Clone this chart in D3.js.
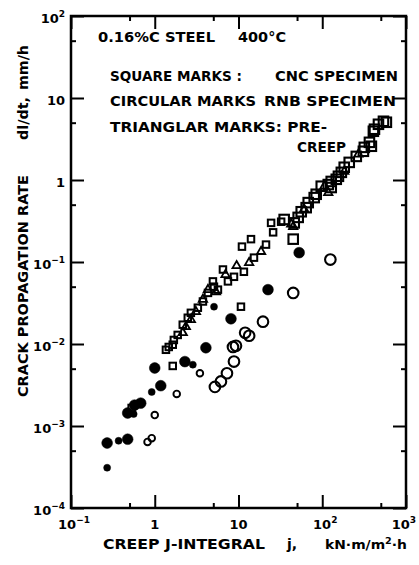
<!DOCTYPE html>
<html><head><meta charset="utf-8">
<script src="https://cdn.jsdelivr.net/npm/d3@7/dist/d3.min.js"></script>
<style>
html,body{margin:0;padding:0;background:#fff;}
text{font-family:"DejaVu Sans",sans-serif;fill:#000;}
</style></head>
<body><svg id="c" width="419" height="565"></svg>
<script>
// ---- data (j in kN·m/m²·h, dl/dt in mm/h) ----
const xMajor = [0.1, 1, 10, 100, 1000];
const xMajorLabels = [["10","-1"],["1",""],["10",""],["10","2"],["10","3"]];
const xMinor = [0.5, 5, 50, 500];
const yMajor = [1e-4, 1e-3, 1e-2, 1e-1, 1, 10, 100];
const yMajorLabels = [["10","-4"],["10","-3"],["10","-2"],["10","-1"],["1",""],["10",""],["10","2"]];
const yMinor = [5e-4, 5e-3, 5e-2, 0.5, 5, 50];

// square marks: CNC specimen
const cncLarge = [[35.1,0.33],[45,0.19],[46.3,0.30],[51.6,0.35],[56.1,0.41],[64.3,0.46],[68,0.53],[80.2,0.61],[84.7,0.67],[97.3,0.84],[118,0.88],[128,0.81],[128,0.96],[147,1.02],[156,1.11],[169,1.24],[183,1.43],[210,1.64],[255,1.94],[310,2.24],[318,2.5],[366,2.88],[386,2.58],[408,3.93],[420,4.16],[469,4.78],[538,5.2],[583,5.06]];
const cncSmall = [[1.36,0.0085],[1.47,0.0092],[1.64,0.0098],[1.69,0.0112],[1.88,0.0129],[2.16,0.0172],[2.48,0.0209],[2.7,0.024],[3.27,0.0277],[3.76,0.033],[4.32,0.042],[5.09,0.05],[4.95,0.058],[5.68,0.046],[6.52,0.081],[7.48,0.058],[8.83,0.066],[11.6,0.076],[11.0,0.154],[14.1,0.19],[15.3,0.113],[21.3,0.163],[25.9,0.23],[24.5,0.3],[32.3,0.31],[10.7,0.0285],[1.64,0.0054],[0.53,0.00166]];
// triangular marks: pre-creep
const preCreep = [[2.16,0.0137],[2.35,0.0162],[2.7,0.0198],[3.1,0.0248],[3.76,0.035],[4.32,0.046],[5.38,0.043],[7.0,0.07],[9.5,0.09],[13.4,0.098],[18.6,0.134],[42.6,0.29],[45,0.27],[60.8,0.44],[106,0.84],[118,0.7],[183,1.27],[270,2.06]];
// circular marks: RNB specimen
const rnbFilledLarge = [[0.27,0.00062],[0.475,0.00069],[0.575,0.0018],[0.68,0.0019],[0.475,0.00144],[1.18,0.0031],[1.0,0.0051],[2.29,0.0061],[4.08,0.009],[8.13,0.0203],[22.5,0.046],[53,0.13]];
const rnbFilledSmall = [[0.27,0.00031],[0.37,0.00066],[0.56,0.0014],[0.92,0.0026],[2.85,0.0056],[5.1,0.0285]];
const rnbOpenLarge = [[5.23,0.003],[6.17,0.0035],[7.28,0.0044],[8.83,0.0061],[8.59,0.0092],[9.33,0.0095],[12.0,0.0137],[13.4,0.0126],[19.6,0.0187],[45,0.042],[125,0.107]];
const rnbOpenSmall = [[0.82,0.00064],[0.92,0.00071],[1.0,0.00136],[1.83,0.00246],[3.46,0.0044]];

// ---- drawing ----
const svg = d3.select("#c");
svg.append("rect").attr("width",419).attr("height",565).attr("fill","#fff");
const L=71, R=406, T=16, B=508;
const x = d3.scaleLog().domain([0.1,1000]).range([L,R]);
const y = d3.scaleLog().domain([1e-4,100]).range([B,T]);

function ticks(axisFn, scale, vals, size, transform){
  const g = svg.append("g").attr("transform",transform)
    .call(axisFn(scale).tickValues(vals).tickSize(size).tickFormat(""));
  g.select(".domain").remove();
  g.selectAll(".tick line").attr("stroke","#000").attr("stroke-width",2);
}
const MJ=-13, MN=-5;
ticks(d3.axisBottom, x, xMajor, MJ, `translate(0,${B})`);
ticks(d3.axisBottom, x, xMinor, MN, `translate(0,${B})`);
ticks(d3.axisTop, x, xMajor, MJ, `translate(0,${T})`);
ticks(d3.axisTop, x, xMinor, MN, `translate(0,${T})`);
ticks(d3.axisLeft, y, yMajor, MJ, `translate(${L},0)`);
ticks(d3.axisLeft, y, yMinor, MN, `translate(${L},0)`);
ticks(d3.axisRight, y, yMajor, MJ, `translate(${R},0)`);
ticks(d3.axisRight, y, yMinor, MN, `translate(${R},0)`);

svg.append("rect").attr("x",L).attr("y",T).attr("width",R-L).attr("height",B-T)
  .attr("fill","none").attr("stroke","#000").attr("stroke-width",2.5);

function supLabel(px, py, lab, anchor){
  const t = svg.append("text").attr("x",px).attr("y",py).attr("text-anchor",anchor)
    .attr("font-size",13).attr("font-weight","bold");
  t.append("tspan").text(lab[0]);
  if(lab[1]) t.append("tspan").attr("dy",-6).attr("font-size",9).text(lab[1].replace("-","\u2212"));
}
xMajor.forEach((v,i)=>{
  const last = i===xMajor.length-1;
  supLabel(last ? 416 : x(v)+(xMajorLabels[i][1]?3:0), 529, xMajorLabels[i], last ? "end" : "middle");
});
yMajor.forEach((v,i)=>supLabel(65, y(v)+7, yMajorLabels[i], "end"));

// marks
const pg = svg.append("g");
const sq = (data, s, sw) => pg.selectAll(null).data(data).enter().append("rect")
  .attr("x",d=>x(d[0])-s/2).attr("y",d=>y(d[1])-s/2).attr("width",s).attr("height",s)
  .attr("fill","none").attr("stroke","#000").attr("stroke-width",sw);
sq(cncSmall, 6.5, 2);
sq(cncLarge, 9.5, 2.1);
pg.selectAll(null).data(preCreep).enter().append("path")
  .attr("d", d3.symbol(d3.symbolTriangle, 30)())
  .attr("transform",d=>`translate(${x(d[0])},${y(d[1])})`)
  .attr("fill","none").attr("stroke","#000").attr("stroke-width",1.8);
const circ = (data, r, filled, sw) => pg.selectAll(null).data(data).enter().append("circle")
  .attr("cx",d=>x(d[0])).attr("cy",d=>y(d[1])).attr("r",r)
  .attr("fill",filled?"#000":"none").attr("stroke","#000").attr("stroke-width",sw);
circ(rnbOpenLarge, 5.3, false, 2.1);
circ(rnbOpenSmall, 3.3, false, 1.9);
circ(rnbFilledLarge, 5.4, true, 0.5);
circ(rnbFilledSmall, 3.5, true, 0.5);

// annotations
function txt(px, py, s, len, size){
  svg.append("text").attr("x",px).attr("y",py).attr("font-size",size||13.5).attr("font-weight","bold")
    .attr("textLength",len).attr("lengthAdjust","spacingAndGlyphs").text(s);
}
txt(98, 42, "0.16%C STEEL", 117);
txt(238, 42, "400°C", 48);
txt(110, 81, "SQUARE MARKS :", 132);
txt(275, 81, "CNC SPECIMEN", 123);
txt(110, 106, "CIRCULAR MARKS", 146);
txt(264, 106, "RNB SPECIMEN", 132);
txt(110, 132, "TRIANGLAR MARKS: PRE-", 217);
txt(297, 152, "CREEP", 49);

// axis titles
txt(103, 549, "CREEP J-INTEGRAL", 162);
svg.append("text").attr("x",287).attr("y",549).attr("font-size",14).attr("font-weight","bold").text("j,");
const kt = svg.append("text").attr("x",325).attr("y",549).attr("font-size",13).attr("font-weight","bold")
  .attr("textLength",82).attr("lengthAdjust","spacingAndGlyphs");
kt.append("tspan").text("kN·m/m");
kt.append("tspan").attr("dy",-5).attr("font-size",9).text("2");
kt.append("tspan").attr("dy",5).text("·h");

const yt = svg.append("g").attr("transform","translate(28,0) rotate(-90)");
const ytxt = (px, s, len) => yt.append("text").attr("x",px).attr("y",0).attr("font-size",13.5)
  .attr("font-weight","bold").attr("textLength",len).attr("lengthAdjust","spacingAndGlyphs").text(s);
ytxt(-397, "CRACK PROPAGATION RATE", 222);
ytxt(-140, "dl/dt,", 43);
ytxt(-90, "mm/h", 45);
</script></body></html>
